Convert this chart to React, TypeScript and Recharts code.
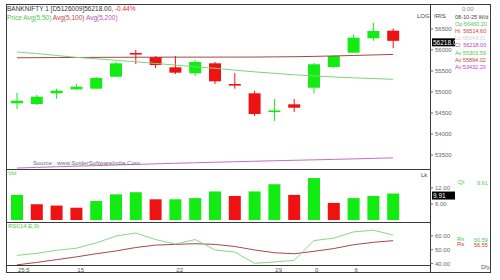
import React from 'react';
import { ComposedChart, Bar, Line, XAxis, YAxis, Cell } from 'recharts';

// daily candles, left to right
const DAYS = ['25:5', '', '', '15', '', '', '', '', '22', '', '', '', '', '29', '', '0', '', '6', '', ''];
const OPEN = [54731, 54714, 54969, 55064, 55079, 55364, 55929, 55833, 55588, 55445, 55683, 55190, 54969, 54548, 54707, 55102, 55595, 55936, 56279, 56460];
const HIGH = [54976, 54929, 55079, 55190, 55357, 55714, 56000, 55857, 55857, 55762, 55714, 55452, 55031, 54833, 54833, 55690, 55881, 56374, 56650, 56514];
const LOW = [54595, 54690, 54840, 55048, 55060, 55357, 55667, 55571, 55429, 55381, 55190, 55079, 54429, 54310, 54524, 54969, 55571, 55929, 56221, 56043];
const CLOSE = [54793, 54888, 55031, 55126, 55333, 55683, 55905, 55643, 55460, 55714, 55255, 55160, 54476, 54560, 54626, 55660, 55857, 56293, 56452, 56218];

const AVG50 = [55952, 55915, 55870, 55825, 55790, 55755, 55720, 55680, 55640, 55600, 55565, 55520, 55480, 55445, 55410, 55382, 55358, 55338, 55320, 55303];
const AVG100 = [55815, 55818, 55820, 55822, 55824, 55826, 55828, 55829, 55830, 55830, 55831, 55831, 55832, 55836, 55840, 55848, 55858, 55870, 55882, 55894];
const AVG200 = [53190, 53205, 53220, 53234, 53248, 53262, 53276, 53290, 53303, 53316, 53328, 53340, 53352, 53363, 53374, 53385, 53396, 53407, 53420, 53432];

const VOLUME = [9.4, 5.9, 5.4, 4.6, 7.1, 9.6, 10.4, 7.75, 7.75, 8.2, 10.7, 9.0, 10.7, 13.4, 9.4, 15.7, 6.4, 8.2, 9.0, 9.91];
const VOL_UP = [1, 0, 0, 0, 1, 1, 1, 0, 1, 1, 1, 0, 1, 1, 0, 1, 0, 1, 1, 1];

const RSI = [45.9, 47.4, 49.6, 51.1, 54.85, 59.85, 62.1, 57.35, 54.1, 57.35, 49.85, 48.35, 40.2, 41.2, 42.3, 56.6, 58.35, 62.85, 64.1, 60.59];
const RSI_SIGNAL = [39.1, 40.85, 42.85, 44.85, 47.1, 49.1, 51.6, 53.35, 53.85, 54.35, 53.85, 52.35, 49.85, 47.85, 47.1, 48.85, 50.85, 53.6, 55.35, 56.55];

const LAST_PRICE = 56218;
const LAST_VOL = 9.91;
const PRICE_TICKS = [53500, 54000, 54500, 55000, 55500, 56000, LAST_PRICE, 56500];
const VOL_TICKS = [6, LAST_VOL, 12];
const RSI_TICKS = [40, 50, 60];

const rows = DAYS.map((label, i) => ({
  i,
  label,
  open: OPEN[i],
  high: HIGH[i],
  low: LOW[i],
  close: CLOSE[i],
  range: [LOW[i], HIGH[i]],
  avg50: AVG50[i],
  avg100: AVG100[i],
  avg200: AVG200[i],
  vol: VOLUME[i],
  rsi: RSI[i],
  signal: RSI_SIGNAL[i],
}));

const GREEN = '#13ec13';
const RED = '#ee1212';
const FONT = '"Liberation Sans", Arial, sans-serif';
const FRAME = '#3a3a3a';

const CHART_W = 485;
const AXIS_W = 61;
// band axes (price/volume) and the point axis of the rsi pane line up on the same centres
const X_PAD = { left: 1, right: 27 };
const X_PAD_POINT = { left: 10.9, right: 36.9 };

function Candle(props: any) {
  const { x, y, width, height, payload } = props;
  const { open, close, high, low } = payload;
  const color = close >= open ? GREEN : RED;
  const span = high - low || 1;
  const py = (v: number) => y + ((high - v) / span) * height;
  const top = py(Math.max(open, close));
  const bot = py(Math.min(open, close));
  const cx = x + width / 2;
  return (
    <g>
      <line x1={cx} x2={cx} y1={y} y2={y + height} stroke={color} strokeWidth={1} />
      <rect x={x} y={top} width={width} height={Math.max(bot - top, 1.6)} fill={color} />
    </g>
  );
}

// axis tick; the last value gets a black tag instead of a plain label
const axisTick = (digits: number, last: number, tagText: string, dy: number) => (props: any) => {
  const { x, y, payload } = props;
  if (payload.value === last) {
    const ty = y + dy;
    return (
      <g>
        <rect x={x - 3} y={ty - 4} width={23} height={8} fill="#000" />
        <text x={x - 2} y={ty + 2.2} fontSize={6.5} fill="#fff" fontFamily={FONT} textAnchor="start">
          {tagText}
        </text>
      </g>
    );
  }
  return (
    <g>
      <line x1={x - 5} x2={x - 2} y1={y} y2={y} stroke="#666" />
      <text x={x} y={y + 2.2} fontSize={6} fill="#666" fontFamily={FONT} textAnchor="start">
        {Number(payload.value).toFixed(digits)}
      </text>
    </g>
  );
};

function DateTick(props: any) {
  const { x, y, payload } = props;
  const label = DAYS[payload.value];
  if (!label) return null;
  return (
    <text x={x + 1} y={y + 7} fontSize={6} fill="#555" fontFamily={FONT} textAnchor="start">
      {label}
    </text>
  );
}

function T({ x, y, color = '#333', size = 6, children }: any) {
  return (
    <div
      style={{
        position: 'absolute',
        left: x,
        top: y - size * 0.6,
        fontSize: size,
        lineHeight: 1.2,
        color,
        whiteSpace: 'nowrap',
        fontFamily: FONT,
      }}
    >
      {children}
    </div>
  );
}

function Box({ left, top, width, height, style }: any) {
  return <div style={{ position: 'absolute', left, top, width, height, ...style }} />;
}

function yAxisProps(domain: number[], ticks: number[]) {
  return {
    orientation: 'right' as const,
    width: AXIS_W,
    domain,
    ticks,
    interval: 0,
    minTickGap: 0,
    axisLine: false,
    tickLine: false,
    tickSize: 3,
    tickMargin: 2,
    allowDataOverflow: true,
  };
}

export default function App() {
  return (
    <div
      style={{
        position: 'fixed',
        left: 0,
        top: 0,
        width: 500,
        height: 280,
        background: '#fff',
        overflow: 'hidden',
        fontFamily: FONT,
      }}
    >
      {/* frames */}
      <Box left={6} top={4} width={485} height={269} style={{ border: `1px solid ${FRAME}`, boxSizing: 'border-box' }} />
      <Box left={430} top={4} width={1} height={269} style={{ background: FRAME }} />
      <Box left={6} top={169} width={424} height={1} style={{ background: FRAME }} />
      <Box left={6} top={222} width={424} height={1} style={{ background: FRAME }} />
      <Box left={6} top={265} width={424} height={1} style={{ background: FRAME }} />

      {/* price panel */}
      <div style={{ position: 'absolute', left: 6, top: 4 }}>
        <ComposedChart width={CHART_W} height={165} data={rows} margin={{ top: 0, right: 0, bottom: 0, left: 0 }}>
          <XAxis dataKey="i" type="category" hide padding={X_PAD} />
          <YAxis {...yAxisProps([53167, 57095], PRICE_TICKS)} tick={axisTick(0, LAST_PRICE, '56218.0', 1.5)} />
          <Line dataKey="avg200" stroke="#c46fc4" strokeWidth={1} dot={false} isAnimationActive={false} />
          <Line dataKey="avg100" stroke="#a54545" strokeWidth={1} dot={false} isAnimationActive={false} />
          <Line dataKey="avg50" stroke="#7cd67c" strokeWidth={1} dot={false} isAnimationActive={false} />
          <Bar dataKey="range" barSize={12} shape={<Candle />} isAnimationActive={false} />
        </ComposedChart>
      </div>

      {/* volume panel */}
      <div style={{ position: 'absolute', left: 6, top: 169 }}>
        <ComposedChart width={CHART_W} height={53} data={rows} margin={{ top: 0, right: 0, bottom: 0, left: 0 }}>
          <XAxis dataKey="i" type="category" hide padding={X_PAD} />
          <YAxis {...yAxisProps([-0.75, 19.1], VOL_TICKS)} tick={axisTick(2, LAST_VOL, '9.91', 2)} />
          <Bar dataKey="vol" barSize={12} isAnimationActive={false}>
            {rows.map((r) => (
              <Cell key={r.i} fill={VOL_UP[r.i] ? GREEN : RED} />
            ))}
          </Bar>
        </ComposedChart>
      </div>

      {/* rsi panel */}
      <div style={{ position: 'absolute', left: 6, top: 222 }}>
        <ComposedChart width={CHART_W} height={52} data={rows} margin={{ top: 0, right: 0, bottom: 0, left: 0 }}>
          <XAxis
            dataKey="i"
            type="category"
            height={9}
            padding={X_PAD_POINT}
            axisLine={false}
            tickLine={false}
            tickSize={0}
            tickMargin={0}
            interval={0}
            tick={<DateTick />}
          />
          <YAxis {...yAxisProps([39, 70], RSI_TICKS)} tick={axisTick(2, -1, '', 0)} />
          <Line dataKey="signal" stroke="#a84848" strokeWidth={1} dot={false} isAnimationActive={false} />
          <Line dataKey="rsi" stroke="#86d886" strokeWidth={1} dot={false} isAnimationActive={false} />
        </ComposedChart>
      </div>

      {/* header texts */}
      <T x={7} y={9} size={6.5} color="#333">
        BANKNIFTY 1 [D5126009]56218.00, <span style={{ color: '#e03030' }}>-0.44%</span>
      </T>
      <T x={7} y={18} size={6.5} color="#4fc84f">
        Price Avg(5,50) <span style={{ color: '#c84444' }}>Avg(5,100)</span>{' '}
        <span style={{ color: '#b455b4' }}>Avg(5,200)</span>
      </T>
      <T x={33} y={164} size={6} color="#6c6c80">
        Source : www.SpiderSoftwareIndia.Com
      </T>
      <T x={8} y={174} size={6} color="#4fc84f">Vol</T>
      <T x={421} y={176} size={6} color="#444">Lk</T>
      <T x={8} y={227} size={6} color="#4fc84f">RSI(14,E,9)</T>
      <T x={417} y={17} size={6} color="#444">LOG</T>

      {/* right info panel */}
      <div style={{ position: 'absolute', left: 431, top: 5, width: 59, height: 267, overflow: 'hidden' }}>
        <T x={31} y={5} color="#888">0.00</T>
        <T x={3} y={12} color="#444">IRIS</T>
        <T x={24} y={12} size={5.5} color="#444">08-10-25 W/d</T>
        <T x={24} y={19} size={5.5} color="#4fc84f">Op 56460.20</T>
        <T x={24} y={26} size={5.5} color="#d83a3a">Hi&nbsp;&nbsp;56514.60</T>
        <T x={24} y={33} size={5.5} color="#cfcfcf">Lo&nbsp;56043.01</T>
        <T x={24} y={40.5} size={5.5} color="#c040c0">Cl&nbsp;&nbsp;56218.00</T>
        <T x={24} y={48} size={5.5} color="#4fc84f">Av 55303.59</T>
        <T x={24} y={55} size={5.5} color="#c84444">Av 55894.02</T>
        <T x={24} y={62} size={5.5} color="#c040c0">Av 53432.20</T>
        <T x={27} y={178} color="#4fc84f">Qt</T>
        <T x={46} y={178} size={5.5} color="#4fc84f">9.91</T>
        <T x={26} y={235} color="#4fc84f">Rs</T>
        <T x={43} y={235} size={5.5} color="#4fc84f">60.59</T>
        <T x={26} y={240} color="#c84444">Rs</T>
        <T x={43} y={240} size={5.5} color="#c84444">56.55</T>
        <T x={50} y={263} color="#555">Dly</T>
      </div>
    </div>
  );
}
